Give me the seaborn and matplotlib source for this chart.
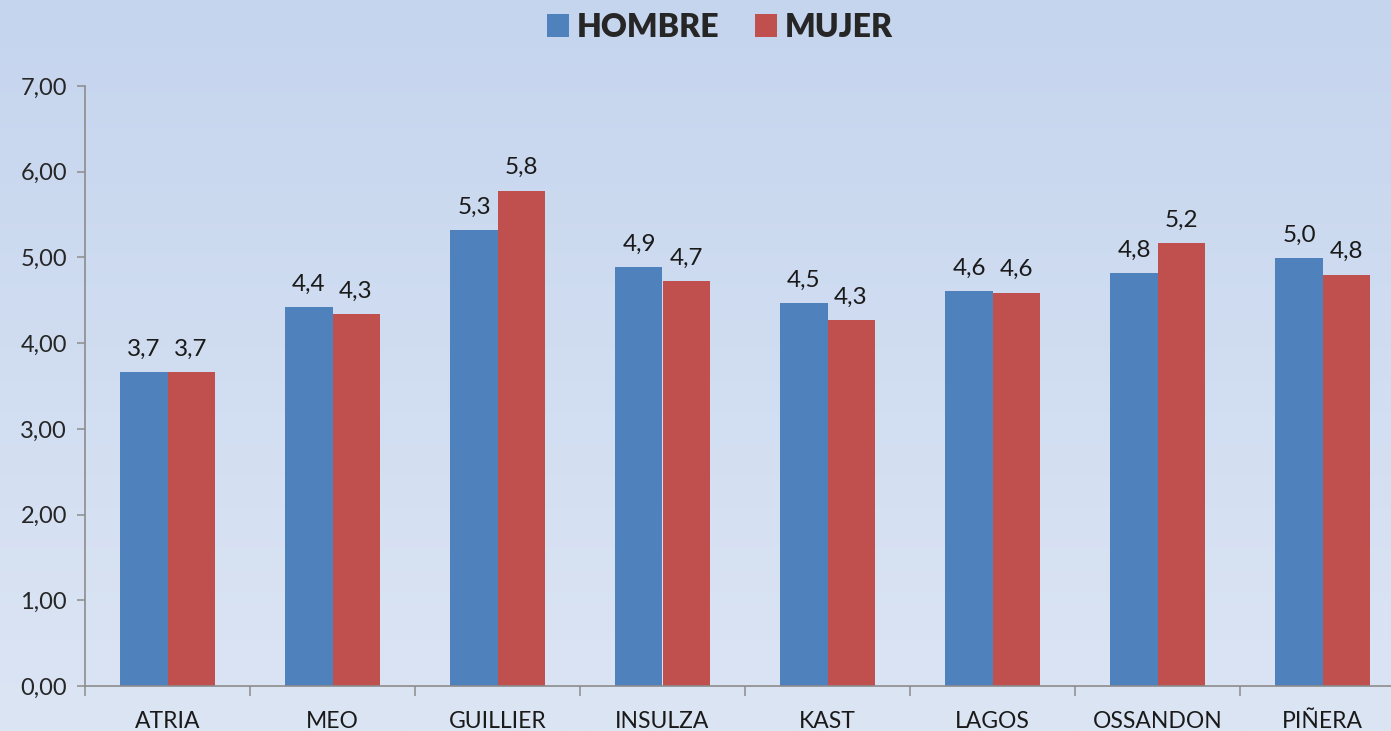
import numpy as np
import pandas as pd
import matplotlib
matplotlib.use("Agg")
import matplotlib.pyplot as plt
from matplotlib.ticker import FuncFormatter, FixedLocator
from matplotlib import font_manager as fm
import seaborn as sns

categories = ["ATRIA", "MEO", "GUILLIER", "INSULZA", "KAST", "LAGOS", "OSSANDON", "PIÑERA"]
hombre = [3.66, 4.42, 5.32, 4.89, 4.47, 4.61, 4.82, 4.99]
mujer = [3.66, 4.34, 5.78, 4.72, 4.27, 4.59, 5.17, 4.80]
series_names = ["HOMBRE", "MUJER"]
colors = ["#4f81bd", "#c0504d"]
yticks = [0, 1, 2, 3, 4, 5, 6, 7]

df = pd.DataFrame({
    "cat": categories * 2,
    "val": hombre + mujer,
    "serie": [series_names[0]] * len(categories) + [series_names[1]] * len(categories),
})

sns.set_theme(style="white")
avail = {f.name for f in fm.fontManager.ttflist}
base_font = "Lato" if "Lato" in avail else "DejaVu Sans"
narrow = "Liberation Sans Narrow" if "Liberation Sans Narrow" in avail else base_font
plt.rcParams["font.family"] = [base_font, "DejaVu Sans"]

W, H = 1391, 731
fig = plt.figure(figsize=(W / 100, H / 100), dpi=100)

# background gradient
bg = fig.add_axes([0, 0, 1, 1], zorder=-10)
grad = np.linspace(0, 1, 256).reshape(-1, 1)
top = np.array([0xc5, 0xd5, 0xee]) / 255
bot = np.array([0xdc, 0xe5, 0xf4]) / 255
img = top[None, None, :] * (1 - grad[:, :, None]) + bot[None, None, :] * grad[:, :, None]
bg.imshow(img, aspect="auto", extent=[0, 1, 0, 1])
bg.set_axis_off()

left = 85 / W
bottom = 1 - 686 / H
width = 1320 / W
height = (686 - 86) / H
ax = fig.add_axes([left, bottom, width, height])
ax.patch.set_alpha(0)

sns.barplot(data=df, x="cat", y="val", hue="serie", palette=colors, saturation=1,
            width=0.57, ax=ax, errorbar=None, linewidth=0, legend=True)

ax.set_xlim(-0.5, len(categories) - 0.5)
ax.set_ylim(0, 7)
ax.set_yticks(yticks)
ax.yaxis.set_major_formatter(FuncFormatter(lambda v, p: f"{v:.2f}".replace(".", ",")))
ax.set_xlabel("")
ax.set_ylabel("")

for s in ["top", "right"]:
    ax.spines[s].set_visible(False)
for s in ["left", "bottom"]:
    ax.spines[s].set_color("#8c8c8c")
    ax.spines[s].set_linewidth(1.2)

ax.tick_params(axis="y", which="major", direction="out", length=6, width=1.1,
               color="#8c8c8c", pad=7, labelsize=17, labelcolor="#262626", left=True)
ax.tick_params(axis="x", which="major", length=0, pad=18, labelsize=16, labelcolor="#1a1a1a")
ax.xaxis.set_minor_locator(FixedLocator(np.arange(-0.5, len(categories), 1.0)))
ax.tick_params(axis="x", which="minor", direction="out", length=7, width=1.1,
               color="#8c8c8c", bottom=True)
for lab in ax.get_xticklabels():
    lab.set_fontfamily([narrow, "DejaVu Sans"])
    lab.set_fontsize(16.5)

for cont in ax.containers:
    ax.bar_label(cont, labels=[f"{v:.1f}".replace(".", ",") for v in cont.datavalues],
                 padding=9, fontsize=17.5, color="#1a1a1a")

handles, labels = ax.get_legend_handles_labels()
ax.get_legend().remove()
fig.legend(handles, labels, loc="upper center", bbox_to_anchor=(0.5175, 1.022), ncol=2,
           frameon=False, handlelength=0.7, handleheight=0.7, handletextpad=0.25,
           columnspacing=1.1, prop={"weight": "heavy", "size": 23})

fig.savefig("out.png", dpi=100)
